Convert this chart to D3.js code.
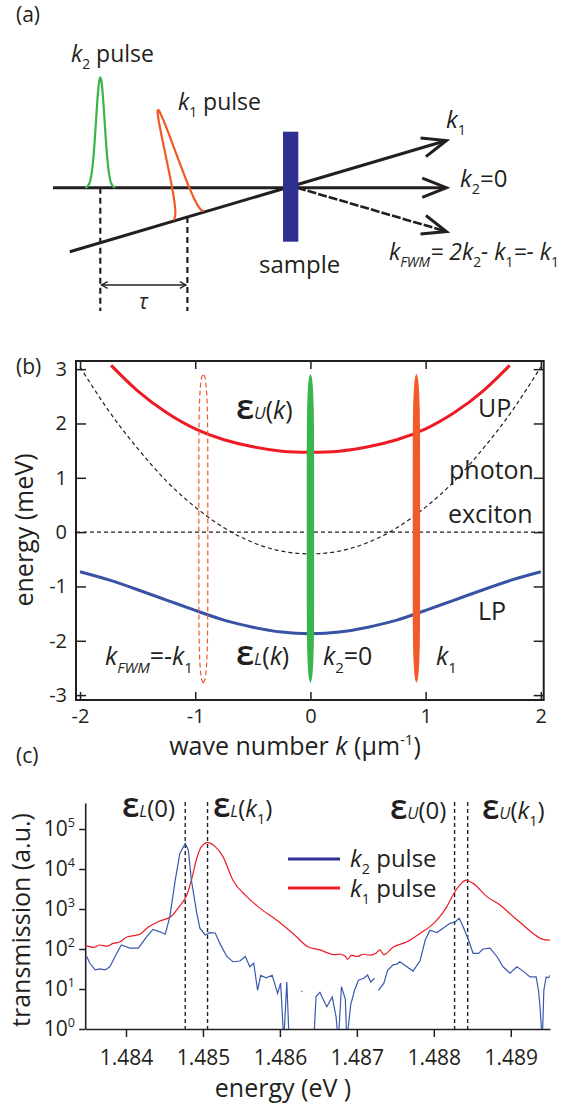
<!DOCTYPE html>
<html>
<head>
<meta charset="utf-8">
<script src="https://cdn.jsdelivr.net/npm/d3@7"></script>
<style>
body { margin: 0; background: #fff; }
text { font-family: "Open Sans", sans-serif; fill: #231f20; }
</style>
</head>
<body>
<svg id="fig" width="576" height="1105"></svg>
<script>
// ---- (b) dispersion curves (k in 1/um, energy in meV)
var kUP = [-1.73, -1.5, -1.25, -1, -0.75, -0.5, -0.25, 0, 0.25, 0.5, 0.75, 1, 1.25, 1.5, 1.73];
var eUP = [3.07, 2.60, 2.20, 1.90, 1.70, 1.57, 1.49, 1.47, 1.49, 1.57, 1.70, 1.90, 2.20, 2.60, 3.07];
var kLP = [-2, -1.75, -1.5, -1.25, -1, -0.75, -0.5, -0.25, 0, 0.25, 0.5, 0.75, 1, 1.25, 1.5, 1.75, 2];
var eLP = [-0.73, -0.88, -1.06, -1.25, -1.44, -1.62, -1.75, -1.84, -1.87, -1.84, -1.75, -1.62, -1.44, -1.25, -1.06, -0.88, -0.73];
var ePhoton = [3.04, 2.23, 1.54, 0.94, 0.46, 0.08, -0.19, -0.35, -0.40, -0.35, -0.19, 0.08, 0.46, 0.94, 1.54, 2.23, 3.04];
var eExciton = 0;
var pulseK = [0, 0.92];
var pulseColors = ["#39b54a", "#f15a29"];
var fwmK = -0.93;
var pulseSpan = [-2.78, 2.92];
var kTicks = [-2, -1, 0, 1, 2];
var eTicks = [-3, -2, -1, 0, 1, 2, 3];

// ---- (c) transmission spectra (energy in eV, transmission in a.u.)
var eRed = [1.48349, 1.48358, 1.48366, 1.48375, 1.48383, 1.48392, 1.48401, 1.48410, 1.48418, 1.48429,
  1.48444, 1.48459, 1.48470, 1.48479, 1.48485, 1.48492, 1.48498, 1.48506, 1.48516, 1.48526,
  1.48539, 1.48557, 1.48574, 1.48596, 1.48617, 1.48637, 1.48652, 1.48662, 1.48670, 1.48678,
  1.48685, 1.48688, 1.48693, 1.48700, 1.48709, 1.48717, 1.48725, 1.48730, 1.48735, 1.48747,
  1.48765, 1.48782, 1.48795, 1.48804, 1.48817, 1.48825, 1.48834, 1.48842, 1.48851, 1.48869,
  1.48886, 1.48903, 1.48916, 1.48929, 1.48942, 1.48951];
var tRed = [120, 110, 126, 118, 138, 150, 200, 215, 234, 355,
  500, 660, 1200, 2240, 5250, 18600, 36300, 45700, 36300, 20400,
  5250, 2040, 1050, 525, 245, 112, 95, 80, 72, 74,
  66, 55, 70, 65, 74, 70, 78, 95, 72, 110,
  151, 245, 363, 525, 1150, 2240, 4000, 5250, 4370, 2040,
  1260, 650, 400, 245, 174, 166];
var eBlue = [1.48349, 1.48353, 1.48360, 1.48366, 1.48373, 1.48379, 1.48388, 1.48394, 1.48405, 1.48416,
  1.48427, 1.48435, 1.48444, 1.48451, 1.48457, 1.48464, 1.48470, 1.48477, 1.48481, 1.48485,
  1.48492, 1.48496, 1.48503, 1.48509, 1.48516, 1.48522, 1.48531, 1.48539, 1.48548, 1.48555,
  1.48561, 1.48566, 1.48571, 1.48575, 1.48582, 1.48590, 1.48597, 1.48601, 1.48605, 1.48609,
  1.48612, 1.48620, 1.48628, 1.48629, 1.48636, 1.48644, 1.48647, 1.48652, 1.48656, 1.48661,
  1.48668, 1.48673, 1.48676, 1.48680, 1.48685, 1.48687, 1.48692, 1.48697, 1.48702, 1.48709,
  1.48714, 1.48718, 1.48723, 1.48725, 1.48728, 1.48735, 1.48740, 1.48747, 1.48752, 1.48756,
  1.48765, 1.48773, 1.48782, 1.48789, 1.48795, 1.48804, 1.48812, 1.48821, 1.48828, 1.48833,
  1.48838, 1.48845, 1.48851, 1.48858, 1.48864, 1.48873, 1.48882, 1.48890, 1.48899, 1.48908,
  1.48916, 1.48925, 1.48933, 1.48936, 1.48938, 1.48941, 1.48943, 1.48946, 1.48949, 1.48951];
var tBlue = [65, 44, 30, 32, 30, 36, 78, 126, 105, 105,
  204, 309, 269, 234, 646, 5250, 24500, 43600, 29500, 5250,
  776, 331, 224, 257, 251, 138, 65, 48, 50, 65,
  36, 44, 9.3, 22, 19, 22, 7.8, 14, 0.5, 15,
  0.5, null, 8.9, 8.5, null, 0.5, 6.5, 8.3, 5.6, 3.6,
  6.3, 2.0, 0.5, 11.5, 5.6, 0.5, 4, 9.3, 16.6, 18.6,
  22.4, 15, 18.6, null, 9.3, 13.8, 29.5, 40, 42, 48,
  36, 28, 50, 170, 295, 257, 331, 437, 479, 589,
  363, 170, 78, 78, 100, 105, 65, 36, 25, 36,
  28, 20, 20, 9.3, 3.6, 0.5, 9.3, 20, 19, 22];
var markerE = [1.48477, 1.48506, 1.48827, 1.48844];
var energyTicks = [1.484, 1.485, 1.486, 1.487, 1.488, 1.489];
var transTicks = [1, 10, 100, 1000, 10000, 100000];

var ink = "#231f20";
var svg = d3.select("#fig");

// text built from pieces: i italic, s subscript, p superscript, m small, e big epsilon
function rich(g, x, y, parts, size, anchor) {
    var t = g.append("text").attr("x", x).attr("y", y).attr("font-size", size)
        .attr("text-anchor", anchor || "start");
    var shift = 0;
    parts.forEach(function (p) {
        var kind = p[1] || "";
        var off = 0, fs = size;
        if (kind.indexOf("s") >= 0) { off = size * 0.3; fs = size * 0.6; }
        if (kind.indexOf("p") >= 0) { off = -size * 0.42; fs = size * 0.6; }
        if (kind.indexOf("m") >= 0) { fs = size * 0.68; }
        if (kind.indexOf("e") >= 0) { fs = size * 1.4; }
        var ts = t.append("tspan").text(p[0]).attr("font-size", fs).attr("dy", off - shift);
        if (kind.indexOf("i") >= 0) ts.attr("font-style", "italic");
        if (kind.indexOf("e") >= 0) ts.attr("font-weight", 600);
        shift = off;
    });
    return t;
}

function chevron(g, tip, from, len, ang, width) {
    var a = Math.atan2(from[1] - tip[1], from[0] - tip[0]);
    var p1 = [tip[0] + len * Math.cos(a + ang), tip[1] + len * Math.sin(a + ang)];
    var p2 = [tip[0] + len * Math.cos(a - ang), tip[1] + len * Math.sin(a - ang)];
    g.append("path").attr("d", d3.line()([p1, tip, p2]))
        .attr("fill", "none").attr("stroke", ink).attr("stroke-width", width);
}

// ================= (a) schematic =================
var ga = svg.append("g");
var beamY = 187.7;
var k1From = [69.8, 251.7], k1Slope = -0.29519;
function k1y(x) { return k1From[1] + k1Slope * (x - k1From[0]); }
var tipX = 446.4;

ga.append("line").attr("x1", 53).attr("y1", beamY).attr("x2", tipX).attr("y2", beamY)
    .attr("stroke", ink).attr("stroke-width", 3);
chevron(ga, [tipX, beamY], [53, beamY], 26, 0.38, 3);
ga.append("line").attr("x1", k1From[0]).attr("y1", k1From[1]).attr("x2", tipX).attr("y2", k1y(tipX))
    .attr("stroke", ink).attr("stroke-width", 3);
chevron(ga, [tipX, k1y(tipX)], k1From, 26, 0.38, 3);
ga.append("line").attr("x1", 297).attr("y1", beamY).attr("x2", tipX).attr("y2", beamY + 0.2932 * (tipX - 297))
    .attr("stroke", ink).attr("stroke-width", 2.6).attr("stroke-dasharray", "9,2");
chevron(ga, [tipX, beamY + 0.2932 * (tipX - 297)], [297, beamY], 26, 0.38, 3);

ga.append("rect").attr("x", 283).attr("y", 131.7).attr("width", 15.3).attr("height", 110)
    .attr("fill", "#2e3192");

// k2 pulse (green)
var sG = d3.range(-15, 15.01, 0.5);
ga.append("path")
    .attr("d", d3.line()(sG.map(function (s) { return [100.3 + s, beamY - 110 * Math.exp(-s * s / (2 * 4.3 * 4.3))]; })))
    .attr("fill", "none").attr("stroke", "#39b54a").attr("stroke-width", 2.2);
// k1 pulse (orange), drawn on the tilted beam
var dirP = [-30.8, -106.6];
ga.append("path")
    .attr("d", d3.line().curve(d3.curveCatmullRom)(sG.map(function (s) {
        var bx = 188.8 + s, g = Math.exp(-s * s / (2 * 4.9 * 4.9));
        return [bx + g * dirP[0], k1y(bx) + g * dirP[1]];
    })))
    .attr("fill", "none").attr("stroke", "#f15a24").attr("stroke-width", 2.2);

ga.append("line").attr("x1", 100.3).attr("y1", beamY).attr("x2", 100.3).attr("y2", 311)
    .attr("stroke", ink).attr("stroke-width", 2.2).attr("stroke-dasharray", "6,4");
ga.append("line").attr("x1", 187.4).attr("y1", k1y(187.4)).attr("x2", 187.4).attr("y2", 311)
    .attr("stroke", ink).attr("stroke-width", 2.2).attr("stroke-dasharray", "6,4");
ga.append("line").attr("x1", 101.5).attr("y1", 285).attr("x2", 186).attr("y2", 285)
    .attr("stroke", ink).attr("stroke-width", 1.3);
chevron(ga, [101.5, 285], [186, 285], 7, 0.5, 1.3);
chevron(ga, [186, 285], [101.5, 285], 7, 0.5, 1.3);

rich(ga, 16, 22, [["(a)"]], 21);
rich(ga, 71, 62, [["k", "i"], ["2", "s"], [" pulse"]], 23);
rich(ga, 178, 110, [["k", "i"], ["1", "s"], [" pulse"]], 23);
rich(ga, 446, 128, [["k", "i"], ["1", "s"]], 24);
rich(ga, 460, 187, [["k", "i"], ["2", "s"], ["=0"]], 24);
rich(ga, 389, 260, [["k", "i"], ["FWM", "si"], ["= 2", "i"], ["k", "i"], ["2", "s"], ["- ", "i"], ["k", "i"], ["1", "s"], ["=- ", "i"], ["k", "i"], ["1", "s"]], 23);
rich(ga, 259, 273, [["sample"]], 24);
rich(ga, 139, 309, [["\u03c4", "i"]], 21);

// ================= (b) dispersion =================
var gb = svg.append("g");
var xb = d3.scaleLinear().domain([-2.035, 2.025]).range([76, 543.7]);
var yb = d3.scaleLinear().domain([-3.09, 3.15]).range([700, 361]);

function styleAxis(g, size) {
    g.select(".domain").remove();
    g.selectAll(".tick line").attr("stroke", ink).attr("stroke-width", 1.5);
    g.selectAll(".tick text").attr("fill", ink).attr("font-size", size)
        .attr("font-family", "'Open Sans', sans-serif");
}
var plain = function (d) { return String(d); };
gb.append("g").attr("transform", "translate(0,700)")
    .call(d3.axisBottom(xb).tickValues(kTicks).tickSize(-8).tickSizeOuter(0).tickPadding(9).tickFormat(plain))
    .call(styleAxis, 20);
gb.append("g").attr("transform", "translate(0,361)")
    .call(d3.axisTop(xb).tickValues(kTicks).tickSize(-8).tickSizeOuter(0).tickFormat(""))
    .call(styleAxis, 20);
gb.append("g").attr("transform", "translate(76,0)")
    .call(d3.axisLeft(yb).tickValues(eTicks).tickSize(-10).tickSizeOuter(0).tickPadding(9).tickFormat(plain))
    .call(styleAxis, 20);
gb.append("g").attr("transform", "translate(543.7,0)")
    .call(d3.axisRight(yb).tickValues(eTicks).tickSize(-10).tickSizeOuter(0).tickFormat(""))
    .call(styleAxis, 20);
gb.append("rect").attr("x", xb.range()[0]).attr("y", yb.range()[1])
    .attr("width", xb.range()[1] - xb.range()[0]).attr("height", yb.range()[0] - yb.range()[1])
    .attr("fill", "none").attr("stroke", ink).attr("stroke-width", 2);

var lineB = d3.line().curve(d3.curveNatural).x(function (d) { return xb(d[0]); }).y(function (d) { return yb(d[1]); });
gb.append("path").attr("d", lineB(d3.zip(kLP, ePhoton)))
    .attr("fill", "none").attr("stroke", ink).attr("stroke-width", 1.2).attr("stroke-dasharray", "4,3");
gb.append("path").attr("d", lineB(xb.domain().map(function (k) { return [k, eExciton]; })))
    .attr("fill", "none").attr("stroke", ink).attr("stroke-width", 1.2).attr("stroke-dasharray", "4,3");
gb.append("path").attr("d", lineB(d3.zip(kUP, eUP)))
    .attr("fill", "none").attr("stroke", "#ed1c24").attr("stroke-width", 3);
gb.append("path").attr("d", lineB(d3.zip(kLP, eLP)))
    .attr("fill", "none").attr("stroke", "#3953a4").attr("stroke-width", 3);

function spindle(k, halfW) {
    var mid = (pulseSpan[0] + pulseSpan[1]) / 2, half = (pulseSpan[1] - pulseSpan[0]) / 2;
    var us = d3.range(-1, 1.0001, 0.025);
    var w = function (u) { return halfW * Math.sqrt(Math.max(0, 1 - Math.pow(Math.abs(u), 6))); };
    var left = us.map(function (u) { return [xb(k) - w(u), yb(mid + u * half)]; });
    var right = us.slice().reverse().map(function (u) { return [xb(k) + w(u), yb(mid + u * half)]; });
    return d3.line()(left.concat(right)) + "Z";
}
pulseK.forEach(function (k, i) {
    gb.append("path").attr("d", spindle(k, 3.7)).attr("fill", pulseColors[i]);
});
gb.append("path").attr("d", spindle(fwmK, 4.5)).attr("fill", "none")
    .attr("stroke", "#f15a29").attr("stroke-width", 1.2).attr("stroke-dasharray", "5,3");

rich(gb, 16, 374, [["(b)"]], 21);
rich(gb, 236, 419, [["\u03b5", "e"], ["U", "mi"], ["("], ["k", "i"], [")"]], 25);
rich(gb, 478, 417, [["UP"]], 25);
rich(gb, 449, 479, [["photon"]], 25);
rich(gb, 448, 523, [["exciton"]], 25);
rich(gb, 478, 620, [["LP"]], 25);
rich(gb, 105, 665, [["k", "i"], ["FWM", "si"], ["=-"], ["k", "i"], ["1", "s"]], 25);
rich(gb, 236, 665, [["\u03b5", "e"], ["L", "mi"], ["("], ["k", "i"], [")"]], 25);
rich(gb, 323, 665, [["k", "i"], ["2", "s"], ["=0"]], 25);
rich(gb, 436, 665, [["k", "i"], ["1", "s"]], 25);
rich(gb, 295, 755, [["wave number "], ["k", "i"], [" (\u03bcm"], ["-1", "p"], [")"]], 25, "middle");
rich(gb.append("g").attr("transform", "translate(33,530) rotate(-90)"), 0, 0, [["energy (meV)"]], 25, "middle");

// ================= (c) spectra =================
var gc = svg.append("g");
var xc = d3.scaleLinear().domain([1.48347, 1.48951]).range([85.2, 550]);
var yc = d3.scaleLog().domain([1, Math.pow(10, 5.65)]).range([1029, 803]);

gc.append("defs").append("clipPath").attr("id", "clipC").append("rect")
    .attr("x", 85.2).attr("y", 790).attr("width", 465).attr("height", 239);

var axB = gc.append("g").attr("transform", "translate(0,1029)")
    .call(d3.axisBottom(xc).tickValues(energyTicks).tickSize(8).tickSizeOuter(0).tickPadding(13).tickFormat(d3.format(".3f")));
axB.selectAll(".tick line").attr("stroke", ink).attr("stroke-width", 1.5);
axB.selectAll(".tick text").attr("fill", ink).attr("font-size", 21).attr("font-family", "'Open Sans', sans-serif");
axB.select(".domain").attr("stroke", ink).attr("stroke-width", 1.6);
var axL = gc.append("g").attr("transform", "translate(85.2,0)")
    .call(d3.axisLeft(yc).tickValues(transTicks).tickSize(6).tickSizeOuter(0).tickFormat(""));
axL.selectAll(".tick line").attr("stroke", ink).attr("stroke-width", 1.5);
axL.select(".domain").attr("stroke", ink).attr("stroke-width", 1.6);
transTicks.forEach(function (v) {
    rich(gc, 75, yc(v) + 7, [["10"], [String(Math.round(Math.log10(v))), "p"]], 21, "end");
});

markerE.forEach(function (e) {
    gc.append("line").attr("x1", xc(e)).attr("x2", xc(e)).attr("y1", 802).attr("y2", 1029)
        .attr("stroke", ink).attr("stroke-width", 1.4).attr("stroke-dasharray", "4,3");
});

var lineC = d3.line()
    .defined(function (d) { return d[1] !== null; })
    .x(function (d) { return xc(d[0]); }).y(function (d) { return yc(d[1]); });
var plotC = gc.append("g").attr("clip-path", "url(#clipC)");
plotC.append("path").attr("d", lineC.curve(d3.curveMonotoneX)(d3.zip(eRed, tRed)))
    .attr("fill", "none").attr("stroke", "#ed1c24").attr("stroke-width", 1.2);
plotC.append("path").attr("d", lineC.curve(d3.curveLinear)(d3.zip(eBlue, tBlue)))
    .attr("fill", "none").attr("stroke", "#3a59ad").attr("stroke-width", 1.2);

// legend
gc.append("line").attr("x1", 288).attr("x2", 340).attr("y1", 859).attr("y2", 859)
    .attr("stroke", "#2e3192").attr("stroke-width", 3);
gc.append("line").attr("x1", 288).attr("x2", 340).attr("y1", 888).attr("y2", 888)
    .attr("stroke", "#ed1c24").attr("stroke-width", 3);
rich(gc, 350, 867, [["k", "i"], ["2", "s"], [" pulse"]], 24);
rich(gc, 350, 897, [["k", "i"], ["1", "s"], [" pulse"]], 24);

rich(gc, 16, 763, [["(c)"]], 21);
rich(gc, 122, 817, [["\u03b5", "e"], ["L", "mi"], ["(0)"]], 24);
rich(gc, 213, 817, [["\u03b5", "e"], ["L", "mi"], ["("], ["k", "i"], ["1", "s"], [")"]], 24);
rich(gc, 390, 819, [["\u03b5", "e"], ["U", "mi"], ["(0)"]], 24);
rich(gc, 482, 819, [["\u03b5", "e"], ["U", "mi"], ["("], ["k", "i"], ["1", "s"], [")"]], 24);
rich(gc, 283, 1097, [["energy (eV )"]], 25, "middle");
rich(gc.append("g").attr("transform", "translate(30,920) rotate(-90)"), 0, 0, [["transmission (a.u.)"]], 25, "middle");
</script>
</body>
</html>
